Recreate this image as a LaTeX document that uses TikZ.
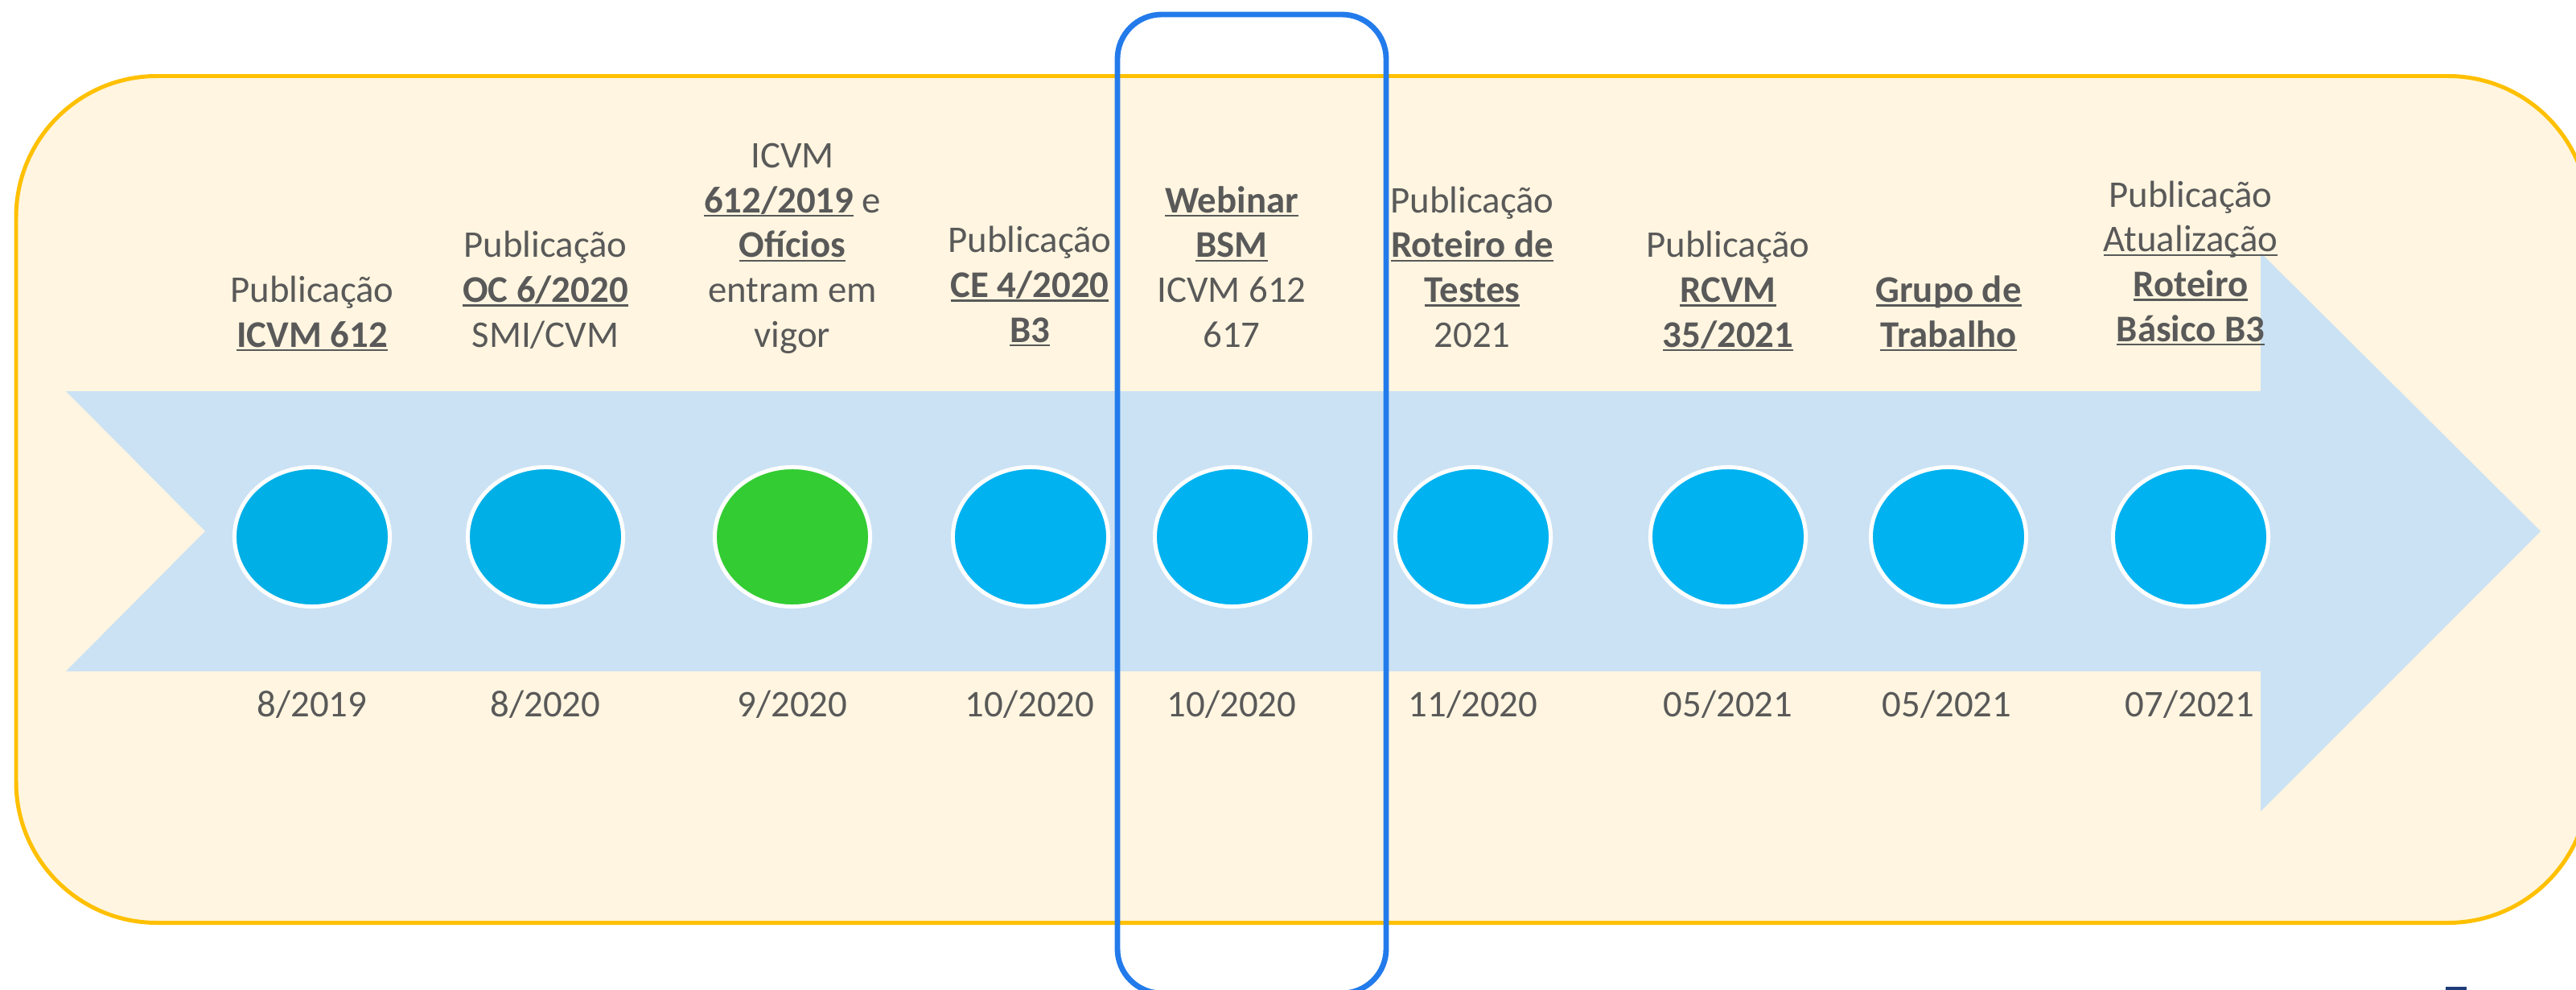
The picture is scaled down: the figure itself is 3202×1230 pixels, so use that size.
\documentclass[tikz,border=0pt]{standalone}
\usepackage{fontspec}
\setmainfont{Carlito}
\usetikzlibrary{shapes.geometric}
\definecolor{txt}{HTML}{595959}
\definecolor{cream}{HTML}{FFF5E0}
\definecolor{gold}{HTML}{FFC000}
\definecolor{band}{HTML}{CBE2F4}
\definecolor{dotA}{HTML}{00AFE6}
\definecolor{dotB}{HTML}{00B2F0}
\definecolor{dotG}{HTML}{33CC33}
\definecolor{framec}{HTML}{237BEB}
\definecolor{navy}{HTML}{1F3B78}
\newcommand\myul[1]{\setbox0\hbox{#1}\rlap{\rule[-0.11em]{\wd0}{0.045em}}\box0\relax}
\newcommand\bu[1]{\myul{\textbf{#1}}}
\newcommand\lns[1]{\begin{tabular}[b]{@{}c@{}}#1\end{tabular}}
\begin{document}
\begin{tikzpicture}[x=0.01cm,y=-0.01cm,
  lbl/.style={text=txt, font=\fontsize{13.3pt}{15.8pt}\selectfont, inner sep=0, anchor=base},
  dot/.style={ellipse, draw=white, line width=1.42pt, minimum width=1.93cm, minimum height=1.73cm, inner sep=0}]
\useasboundingbox (0,0) rectangle (3202,1230);
\clip (0,0) rectangle (3202,1230);
% background panel
\draw[gold, fill=cream, line width=1.42pt, rounded corners=1.75cm] (20,94.5) rectangle (3218,1146.5);
% arrow band
\fill[band] (82,486) -- (2810,486) -- (2810,314) -- (3158,660) -- (2810,1008) -- (2810,834) -- (82,834) -- (255,660) -- cycle;
% dots
\node[dot, fill=dotA] (c1) at (388,667) {};
\node[dot, fill=dotA] (c2) at (678,667) {};
\node[dot, fill=dotG] (c3) at (985,667) {};
\node[dot, fill=dotB] (c4) at (1281,667) {};
\node[dot, fill=dotB] (c5) at (1532,667) {};
\node[dot, fill=dotB] (c6) at (1831,667) {};
\node[dot, fill=dotB] (c7) at (2148,667) {};
\node[dot, fill=dotB] (c8) at (2422,667) {};
\node[dot, fill=dotB] (c9) at (2723,667) {};
% labels above
\node[lbl] (t1) at (388,431) {\lns{Publicação\\\bu{ICVM 612}}};
\node[lbl] (t2) at (678,431) {\lns{Publicação\\\bu{OC 6/2020}\\SMI/CVM}};
\node[lbl] (t3) at (985,431) {\lns{ICVM\\\bu{612/2019} e\\\bu{Ofícios}\\entram em\\vigor}};
\node[lbl] (t4) at (1280,425) {\lns{Publicação\\\bu{CE 4/2020}\\\bu{B3}}};
\node[lbl] (t5) at (1531,431) {\lns{\bu{Webinar}\\\bu{BSM}\\ICVM 612\\617}};
\node[lbl] (t6) at (1830,431) {\lns{Publicação\\\bu{Roteiro de}\\\bu{Testes}\\2021}};
\node[lbl] (t7) at (2148,431) {\lns{Publicação\\\bu{RCVM}\\\bu{35/2021}}};
\node[lbl] (t8) at (2422,431) {\lns{\bu{Grupo de}\\\bu{Trabalho}}};
\node[lbl] (t9) at (2723,424) {\lns{Publicação\\\myul{Atualização}\\\bu{Roteiro}\\\bu{Básico B3}}};
% dates
\node[lbl] (d1) at (388,890) {8/2019};
\node[lbl] (d2) at (678,890) {8/2020};
\node[lbl] (d3) at (985,890) {9/2020};
\node[lbl] (d4) at (1280,890) {10/2020};
\node[lbl] (d5) at (1531,890) {10/2020};
\node[lbl] (d6) at (1831,890) {11/2020};
\node[lbl] (d7) at (2148,890) {05/2021};
\node[lbl] (d8) at (2420,890) {05/2021};
\node[lbl] (d9) at (2722,890) {07/2021};
% highlight frame
\draw[framec, line width=1.95pt, rounded corners=0.55cm] (1389,18) rectangle (1723,1234);
% small navy mark at bottom edge
\fill[navy] (3040,1226) rectangle (3066,1240);
\end{tikzpicture}
\end{document}
